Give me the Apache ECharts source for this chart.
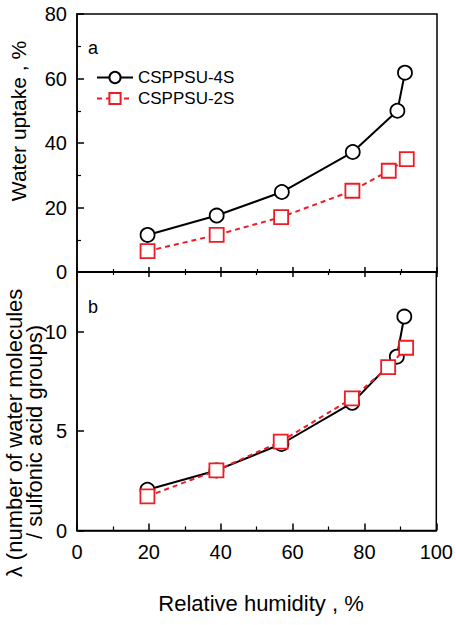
<!DOCTYPE html>
<html>
<head>
<meta charset="utf-8">
<script src="https://cdn.jsdelivr.net/npm/echarts@6/dist/echarts.min.js"></script>
<style>
html,body{margin:0;padding:0;background:#fff;}
#chart{width:456px;height:625px;}
</style>
</head>
<body>
<div id="chart"></div>
<script>
// Relative humidity (%) for each series
const rh4S = [19.6, 38.8, 56.9, 76.6, 89.0, 91.1];
const rh2S = [19.6, 38.8, 56.7, 76.5, 86.6, 91.6];
// Panel a: water uptake (%)
const wu4S = [11.5, 17.5, 24.8, 37.2, 50.0, 61.8];
const wu2S = [6.5, 11.5, 17.0, 25.2, 31.4, 35.0];
// Panel b: lambda (water molecules / sulfonic acid groups)
const lam4S = [2.05, 3.02, 4.35, 6.42, 8.74, 10.76];
const lam2S = [1.72, 3.02, 4.47, 6.64, 8.22, 9.19];
const names = ['CSPPSU-4S', 'CSPPSU-2S'];
const xTicks = [0, 20, 40, 60, 80, 100];

const FONT = 'Liberation Sans, Arial, sans-serif';
const RED = '#ee1c24';
const pair = (xs, ys) => xs.map((x, i) => [x, ys[i]]);

const chart = echarts.init(document.getElementById('chart'), null, {renderer: 'svg'});

const axisLine = {show: true, lineStyle: {color: '#000', width: 1.5}};
const baseX = {
  type: 'value', min: xTicks[0], max: xTicks[xTicks.length - 1], interval: 20,
  axisLine: axisLine, splitLine: {show: false}
};

const s4 = {
  type: 'line', name: names[0], symbol: 'circle', symbolSize: 14,
  lineStyle: {color: '#000', width: 2},
  itemStyle: {color: '#fff', borderColor: '#000', borderWidth: 1.8},
  color: '#000', z: 3
};
const s2 = {
  type: 'line', name: names[1], symbol: 'rect', symbolSize: 14,
  lineStyle: {color: RED, width: 2, type: [5, 4]},
  itemStyle: {color: '#fff', borderColor: RED, borderWidth: 1.8},
  color: RED, z: 4
};

chart.setOption({
  animation: false,
  backgroundColor: '#fff',
  grid: [
    {left: 77, top: 14, width: 360, height: 258, show: true, borderColor: '#000', borderWidth: 1.5, backgroundColor: 'transparent'},
    {left: 77, top: 272, width: 360, height: 258.5, show: true, borderColor: '#000', borderWidth: 1.5, backgroundColor: 'transparent'}
  ],
  xAxis: [
    Object.assign({}, baseX, {gridIndex: 0, position: 'bottom',
      axisLabel: {show: false},
      axisTick: {show: true, inside: true, length: 5, lineStyle: {color: '#000', width: 1.5}},
      minorTick: {show: true, splitNumber: 2, length: 3, lineStyle: {color: '#000', width: 1.2}}}),
    Object.assign({}, baseX, {gridIndex: 1, position: 'bottom',
      axisLabel: {show: true, color: '#000', fontSize: 20, fontFamily: FONT, margin: 11},
      axisTick: {show: true, inside: true, length: 7, lineStyle: {color: '#000', width: 1.5}},
      minorTick: {show: true, splitNumber: 2, length: 4, lineStyle: {color: '#000', width: 1.2}}}),
    Object.assign({}, baseX, {gridIndex: 1, position: 'top',
      axisLabel: {show: false},
      axisTick: {show: true, inside: true, length: 5, lineStyle: {color: '#000', width: 1.5}},
      minorTick: {show: true, splitNumber: 2, length: 3, lineStyle: {color: '#000', width: 1.2}}})
  ],
  yAxis: [
    {type: 'value', gridIndex: 0, min: 0, max: 80, interval: 20,
      axisLine: axisLine, splitLine: {show: false},
      axisLabel: {color: '#000', fontSize: 20, fontFamily: FONT, margin: 10},
      axisTick: {show: true, inside: true, length: 7, lineStyle: {color: '#000', width: 1.5}},
      minorTick: {show: true, splitNumber: 2, length: 4, lineStyle: {color: '#000', width: 1.2}}},
    {type: 'value', gridIndex: 1, min: 0, max: 13, interval: 5,
      axisLine: axisLine, splitLine: {show: false},
      axisLabel: {color: '#000', fontSize: 20, fontFamily: FONT, margin: 10,
        formatter: v => (v % 5 === 0 ? String(v) : '')},
      axisTick: {show: true, inside: true, length: 7, lineStyle: {color: '#000', width: 1.5}}}
  ],
  legend: {
    data: names, orient: 'vertical', left: 91, top: 64,
    itemWidth: 36, itemHeight: 14, itemGap: 4,
    textStyle: {color: '#000', fontSize: 17, fontFamily: FONT},
    selectedMode: false
  },
  series: [
    Object.assign({}, s4, {xAxisIndex: 0, yAxisIndex: 0, data: pair(rh4S, wu4S)}),
    Object.assign({}, s2, {xAxisIndex: 0, yAxisIndex: 0, data: pair(rh2S, wu2S)}),
    Object.assign({}, s4, {xAxisIndex: 1, yAxisIndex: 1, data: pair(rh4S, lam4S)}),
    Object.assign({}, s2, {xAxisIndex: 1, yAxisIndex: 1, data: pair(rh2S, lam2S)})
  ],
  graphic: [
    {type: 'text', x: 93, y: 48, style: {text: 'a', fill: '#000', font: '18px ' + FONT, align: 'center', verticalAlign: 'middle'}},
    {type: 'text', x: 93, y: 307, style: {text: 'b', fill: '#000', font: '18px ' + FONT, align: 'center', verticalAlign: 'middle'}},
    {type: 'text', x: 18, y: 121, rotation: Math.PI / 2,
      style: {text: 'Water uptake , %', fill: '#000', font: '21px ' + FONT, align: 'center', verticalAlign: 'middle'}},
    {type: 'text', x: 14, y: 433, rotation: Math.PI / 2,
      style: {text: 'λ (number of water molecules', fill: '#000', font: '22px ' + FONT, align: 'center', verticalAlign: 'middle'}},
    {type: 'text', x: 34, y: 432, rotation: Math.PI / 2,
      style: {text: '/ sulfonic acid groups)', fill: '#000', font: '22px ' + FONT, align: 'center', verticalAlign: 'middle'}},
    {type: 'text', x: 261, y: 603,
      style: {text: 'Relative humidity , %', fill: '#000', font: '22px ' + FONT, align: 'center', verticalAlign: 'middle'}}
  ]
});
</script>
</body>
</html>
